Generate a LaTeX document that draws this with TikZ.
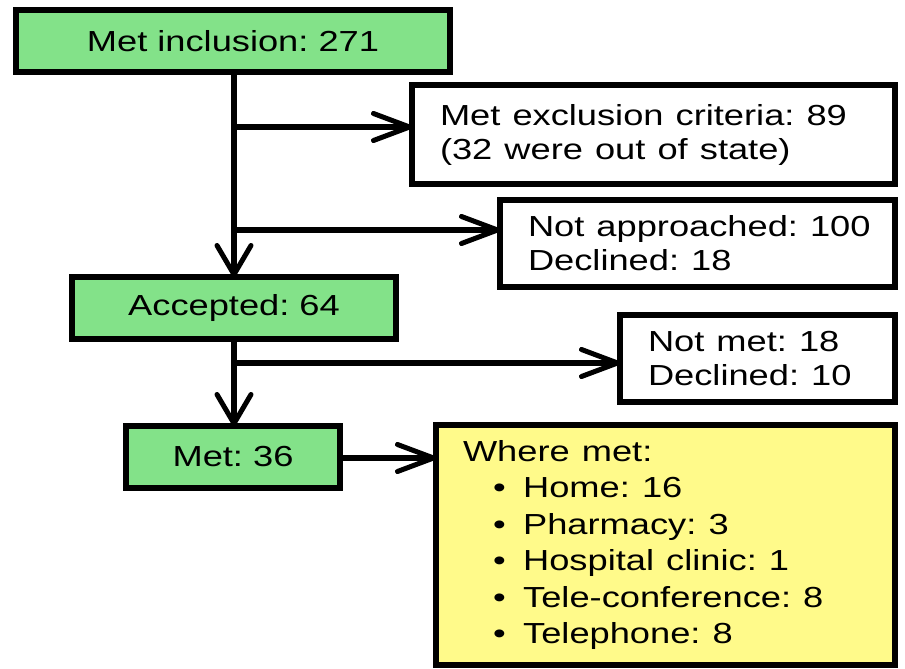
\documentclass[tikz,border=0pt]{standalone}
\usepackage{fontspec}
\setmainfont{Liberation Sans}
\usepackage{graphicx}
\usetikzlibrary{arrows.meta}
\definecolor{boxgreen}{RGB}{131,226,137}
\definecolor{boxyellow}{RGB}{255,250,138}
\newcommand\sx[1]{\scalebox{1.25}[1]{#1}}
\frenchspacing
\begin{document}
\begin{tikzpicture}[x=1pt,y=-1pt,
  box/.style={draw=black, line width=6pt, rectangle, inner ysep=0pt, outer sep=0pt, font=\fontsize{29}{34}\selectfont},
  gbox/.style={box, fill=boxgreen, inner xsep=0pt},
  lbox/.style={box, fill=white, align=left, inner xsep=28pt},
  conn/.style={line width=5.5pt},
  harr/.style={conn, -{Straight Barb[length=36pt,width=27pt,line width=5pt,round]}},
  varr/.style={conn, -{Straight Barb[length=29pt,width=34pt,line width=5pt,round]}},
]
\useasboundingbox (0,0) rectangle (905,669);
% boxes
\node[gbox, minimum width=434pt, minimum height=62pt] (incl) at (233,41) {\sx{Met inclusion: 271}};
\node[lbox, text width=427pt, minimum height=99pt] (excl) at (653.5,134.5)
  {\sx{Met exclusion criteria: 89}\\\sx{(32 were out of state)}};
\node[lbox, text width=339pt, minimum height=87pt] (nap) at (697.5,243.5)
  {\sx{Not approached: 100}\\\sx{Declined: 18}};
\node[gbox, minimum width=324pt, minimum height=62pt] (acc) at (234,308) {\sx{Accepted: 64}};
\node[lbox, text width=219pt, minimum height=87pt, inner xsep=28pt] (nm) at (757.5,358.5)
  {\sx{Not met: 18}\\\sx{Declined: 10}};
\node[gbox, minimum width=214pt, minimum height=62pt] (met) at (233,457) {\sx{Met: 36}};
\node[lbox, fill=boxyellow, text width=405pt, minimum height=240pt, inner xsep=27pt,
      font=\fontsize{29}{36.4}\selectfont] (where) at (665.5,545)
  {\sx{Where met:}\\
   \sx{\hspace*{24pt}•\hspace*{14pt}Home: 16}\\
   \sx{\hspace*{24pt}•\hspace*{14pt}Pharmacy: 3}\\
   \sx{\hspace*{24pt}•\hspace*{14pt}Hospital clinic: 1}\\
   \sx{\hspace*{24pt}•\hspace*{14pt}Tele-conference: 8}\\
   \sx{\hspace*{24pt}•\hspace*{14pt}Telephone: 8}};
% junctions
\coordinate (j1) at (234,127);
\coordinate (j2) at (234,230);
\coordinate (j3) at (234,363);
\coordinate (j4) at (0,458);
% connectors
\draw[varr] (incl.south -| j1) -- (acc.north -| j1);
\draw[harr] (j1) -- (j1 -| excl.west);
\draw[harr] (j2) -- (j2 -| nap.west);
\draw[varr] (acc.south -| j3) -- (met.north -| j3);
\draw[harr] (j3) -- (j3 -| nm.west);
\draw[harr] (met.east |- j4) -- (where.west |- j4);
\end{tikzpicture}
\end{document}
